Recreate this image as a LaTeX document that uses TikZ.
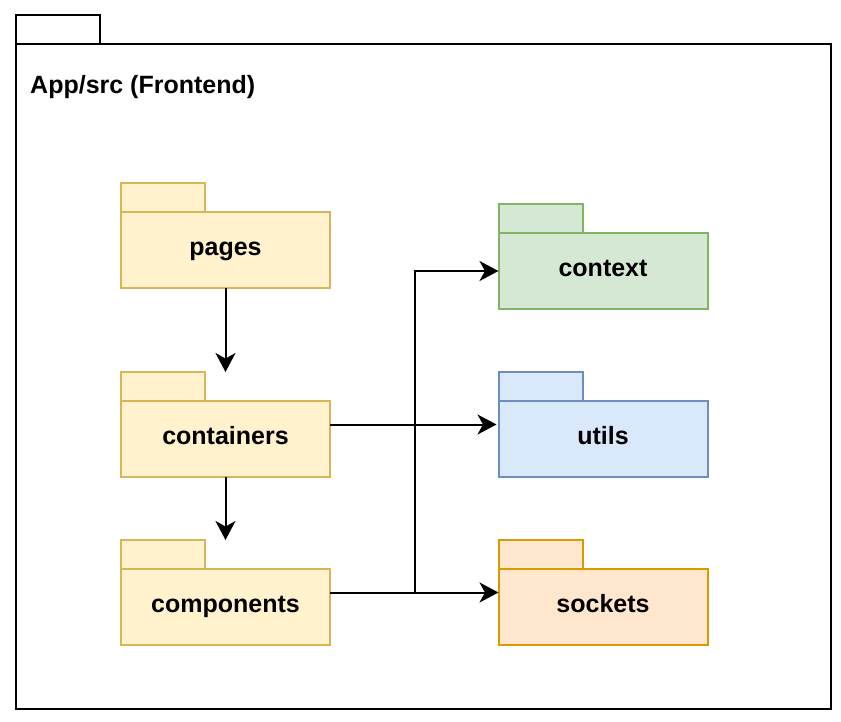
\documentclass[tikz,border=0pt]{standalone}
\usepackage{fontspec}
\setmainfont{Liberation Sans}
\usetikzlibrary{arrows.meta,calc}
\definecolor{yelF}{HTML}{FFF2CC}\definecolor{yelD}{HTML}{D6B656}
\definecolor{grnF}{HTML}{D5E8D4}\definecolor{grnD}{HTML}{82B366}
\definecolor{bluF}{HTML}{DAE8FC}\definecolor{bluD}{HTML}{6C8EBF}
\definecolor{orgF}{HTML}{FFE6CC}\definecolor{orgD}{HTML}{D79B00}
\tikzset{
  pkgbody/.style={rectangle, line width=2pt, outer sep=0pt, minimum width=209pt, minimum height=76pt, inner sep=0pt,
    font=\fontsize{25}{30}\selectfont\bfseries, text height=18pt, text depth=8pt, align=center},
  pkgtab/.style={rectangle, line width=2pt, outer sep=0pt, minimum width=84pt, minimum height=29pt, inner sep=0pt, anchor=south west},
  yel/.style={fill=yelF, draw=yelD},
  grn/.style={fill=grnF, draw=grnD},
  blu/.style={fill=bluF, draw=bluD},
  org/.style={fill=orgF, draw=orgD},
  arr/.style={line width=2pt, -{Stealth[length=19pt,width=20pt,inset=5.5pt]}},
  plain/.style={line width=2pt}
}
\begin{document}
\begin{tikzpicture}[x=1pt,y=-1pt]
\useasboundingbox (0,0) rectangle (841,721);
% outer package
\node[rectangle, draw=black, line width=2pt, outer sep=0pt, fill=white, minimum width=815pt, minimum height=665pt, inner sep=0pt] (app) at (423.5,376.5) {};
\node[rectangle, draw=black, line width=2pt, outer sep=0pt, fill=white, minimum width=84pt, minimum height=29pt, inner sep=0pt, anchor=south west] (app-tab) at (app.north west) {};
\node[anchor=base west, inner sep=0pt, font=\fontsize{25}{30}\selectfont\bfseries] (title) at (30,93) {App/src (Frontend)};
% packages left
\node[pkgbody, yel] (pages) at (225.5,250) {pages};
\node[pkgtab, yel] (pages-tab) at (pages.north west) {};
\node[pkgbody, yel] (containers) at (225.5,439) {containers};
\node[pkgtab, yel] (containers-tab) at (containers.north west) {};
\node[pkgbody, yel] (components) at (225.5,607) {components};
\node[pkgtab, yel] (components-tab) at (components.north west) {};
% packages right
\node[pkgbody, grn] (context) at (603,271) {context};
\node[pkgtab, grn] (context-tab) at (context.north west) {};
\node[pkgbody, blu] (utils) at (603,439) {utils};
\node[pkgtab, blu] (utils-tab) at (utils.north west) {};
\node[pkgbody, org] (sockets) at (603,607) {sockets};
\node[pkgtab, org] (sockets-tab) at (sockets.north west) {};
% connectors
\draw[arr] (pages.south) -- (containers-tab.north -| pages.south);
\draw[arr] (containers.south) -- (components-tab.north -| containers.south);
\draw[arr] ([yshift=14.5pt]containers.east) -- ([yshift=14.5pt,xshift=-2pt]utils.west);
\coordinate (split) at ($([yshift=14.5pt]components.east)+(85,0)$);
\draw[plain] ([yshift=14.5pt]components.east) -- (split);
\draw[arr] (split) |- (context.west);
\draw[arr] (split) -- ([yshift=14.5pt]sockets.west);
\end{tikzpicture}
\end{document}
